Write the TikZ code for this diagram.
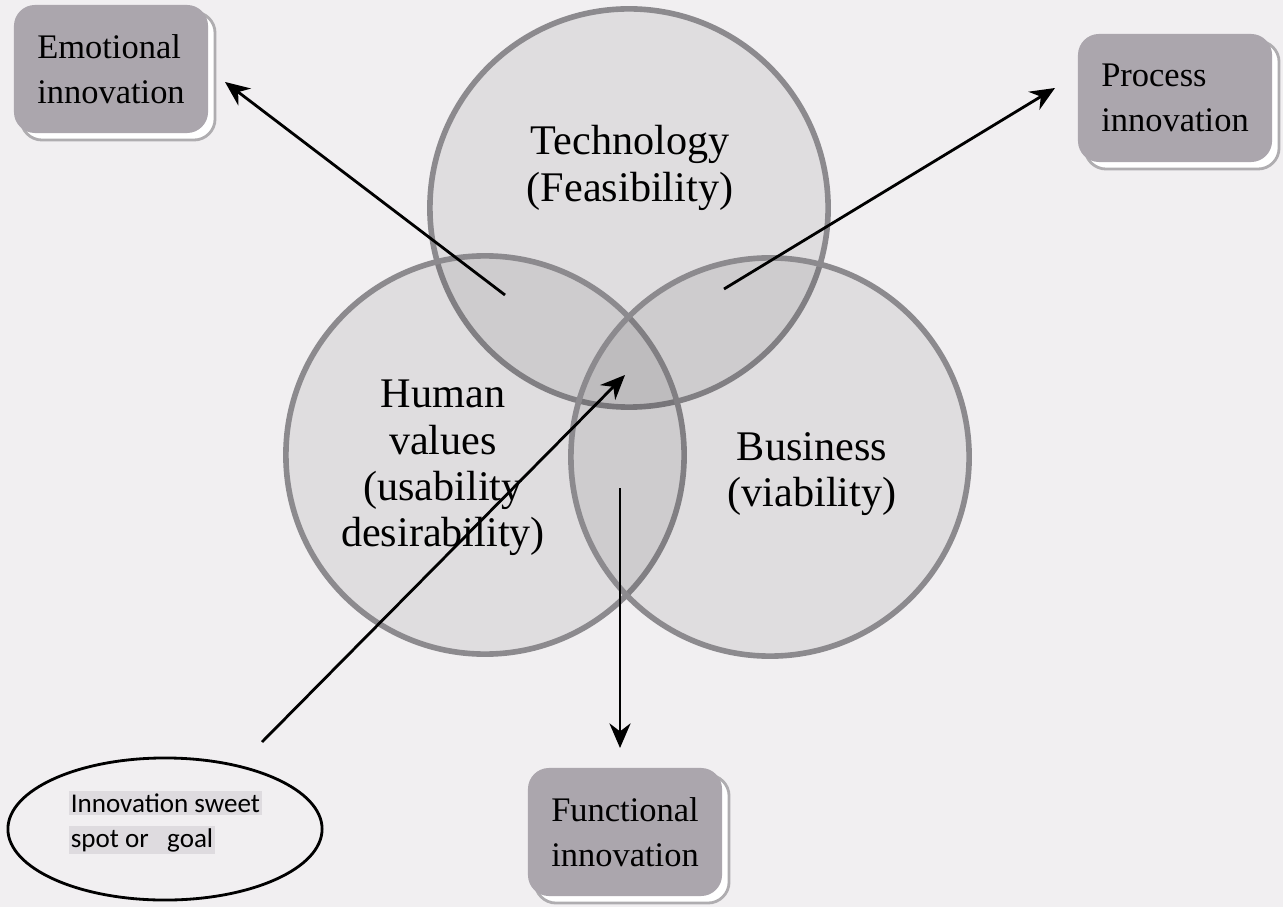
\documentclass[tikz,border=0pt]{standalone}
\usepackage{fontspec}
\setmainfont{Liberation Serif}
\newfontfamily\calfont{Carlito}
\usepackage{tikz}
\usetikzlibrary{positioning,shapes.geometric,shadows,arrows.meta}
\definecolor{paper}   {HTML}{F1EFF1}
\definecolor{ring}    {HTML}{8C8A8E}
\definecolor{boxfill} {HTML}{ABA6AD}
\definecolor{hilite}  {HTML}{DEDBDF}
\tikzset{
  % --- nodes
  venn/.style  = {circle, draw=ring, line width=1.6pt, fill=black, fill opacity=0.075,
                  text opacity=1, minimum size=3.98cm, inner sep=0pt},
  vlbl/.style  = {align=center, font=\fontsize{12}{13.2}\selectfont},
  kind/.style  = {rounded corners=6pt, fill=boxfill, align=left, minimum width=1.94cm,
                  minimum height=1.28cm, inner sep=2pt, font=\fontsize{9.8}{12.8}\selectfont,
                  general shadow={shadow xshift=0.07cm, shadow yshift=-0.07cm,
                                  fill=white, draw=ring!70, line width=0.8pt}},
  goal/.style  = {ellipse, draw=black, line width=0.8pt, minimum width=3.14cm,
                  minimum height=1.42cm},
  gtxt/.style  = {fill=hilite, inner sep=0.6pt, font=\calfont\fontsize{7.7}{9}\selectfont},
  % --- edges
  e/.style     = {-{Stealth[length=7pt,width=6pt]}, line width=0.8pt, draw=black},
}
\begin{document}
\begin{tikzpicture}[x=0.01cm, y=-0.01cm]
  \useasboundingbox[fill=paper] (0,0) rectangle (1283,907);

  % three circles
  \node[venn] (tech) at (629,208) {};
  \node[venn] (human) at (485,455) {};
  \node[venn] (biz) at (770,457) {};

  \node[vlbl] (techl) at (630,168) {Technology\\(Feasibility)};
  \node[vlbl] (humanl) at (443,468) {Human\\values\\(usability\\desirability)};
  \node[vlbl] (bizl) at (812,474) {Business\\(viability)};

  % outcome boxes
  \node[kind] (emo) at (111,69) {Emotional\\innovation};
  \node[kind] (proc) at (1175,98) {Process\\innovation};
  \node[kind] (func) at (625,832) {Functional\\innovation};

  \node[goal] (sweet) at (165,829) {};
  \node[gtxt, anchor=west] (g1) at (68,803) {Innovation sweet};
  \node[gtxt, anchor=west] (g2) at (68,840) {spot or\ \ \ goal};

  % arrow ends
  \coordinate (th) at (505,295);
  \coordinate (tb) at (724,289);
  \coordinate (hb) at (620,488);
  \coordinate (mid) at (625,375);
  \coordinate (sweetTop) at (262,742);
  \coordinate (emoTip) at (225,82);
  \coordinate (procTip) at (1055,88);
  \coordinate (funcTip) at (620,748);

  \draw[e] (th)--(emoTip); \draw[e] (tb)--(procTip);
  \draw[e] (hb)--(funcTip); \draw[e] (sweetTop)--(mid);
\end{tikzpicture}
\end{document}
